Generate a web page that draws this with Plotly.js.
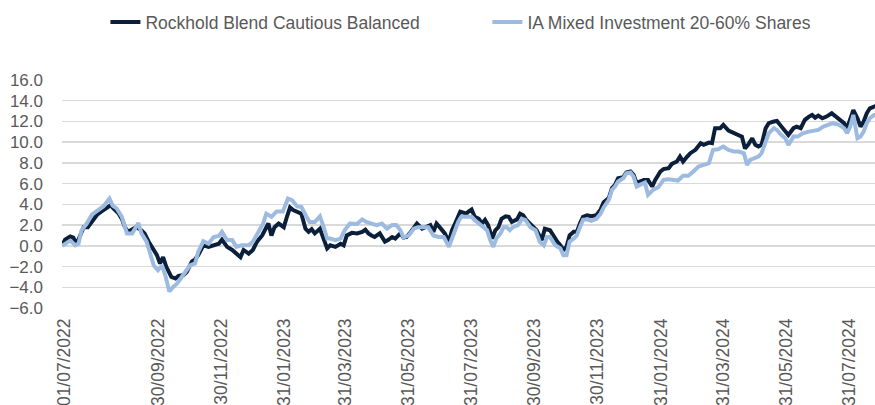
<!DOCTYPE html>
<html>
<head>
<meta charset="utf-8">
<script src="https://cdn.plot.ly/plotly-3.0.1.min.js"></script>
<style>html,body{margin:0;padding:0;background:#fff;}#chart{width:875px;height:405px;}</style>
</head>
<body>
<div id="chart"></div>
<script>
const seriesNames = ["Rockhold Blend Cautious Balanced", "IA Mixed Investment 20-60% Shares"];

const rockholdDates = ["2022-07-01","2022-07-04","2022-07-09","2022-07-12","2022-07-15","2022-07-18","2022-07-22","2022-07-26","2022-07-30","2022-08-04","2022-08-08","2022-08-13","2022-08-17","2022-08-20","2022-08-25","2022-08-28","2022-08-31","2022-09-03","2022-09-07","2022-09-11","2022-09-16","2022-09-19","2022-09-23","2022-09-26","2022-10-01","2022-10-04","2022-10-07","2022-10-10","2022-10-15","2022-10-19","2022-10-22","2022-10-27","2022-10-30","2022-11-04","2022-11-07","2022-11-10","2022-11-15","2022-11-20","2022-11-25","2022-11-30","2022-12-03","2022-12-08","2022-12-13","2022-12-17","2022-12-21","2022-12-24","2022-12-29","2023-01-02","2023-01-06","2023-01-11","2023-01-14","2023-01-17","2023-01-20","2023-01-23","2023-01-27","2023-02-01","2023-02-04","2023-02-07","2023-02-10","2023-02-14","2023-02-18","2023-02-22","2023-02-25","2023-02-28","2023-03-03","2023-03-08","2023-03-11","2023-03-15","2023-03-18","2023-03-23","2023-03-28","2023-03-31","2023-04-03","2023-04-08","2023-04-13","2023-04-18","2023-04-21","2023-04-24","2023-04-27","2023-04-30","2023-05-05","2023-05-10","2023-05-13","2023-05-17","2023-05-20","2023-05-25","2023-05-28","2023-05-31","2023-06-03","2023-06-07","2023-06-10","2023-06-15","2023-06-18","2023-06-23","2023-06-26","2023-06-29","2023-07-02","2023-07-07","2023-07-11","2023-07-14","2023-07-17","2023-07-22","2023-07-25","2023-07-28","2023-07-30","2023-08-02","2023-08-05","2023-08-09","2023-08-12","2023-08-15","2023-08-18","2023-08-22","2023-08-25","2023-08-28","2023-08-31","2023-09-04","2023-09-07","2023-09-10","2023-09-15","2023-09-18","2023-09-21","2023-09-24","2023-09-29","2023-10-04","2023-10-09","2023-10-12","2023-10-17","2023-10-20","2023-10-24","2023-10-27","2023-10-30","2023-11-02","2023-11-05","2023-11-09","2023-11-12","2023-11-15","2023-11-18","2023-11-22","2023-11-26","2023-12-01","2023-12-05","2023-12-08","2023-12-13","2023-12-16","2023-12-19","2023-12-22","2023-12-27","2023-12-30","2024-01-03","2024-01-06","2024-01-09","2024-01-12","2024-01-16","2024-01-20","2024-01-24","2024-01-27","2024-02-01","2024-02-04","2024-02-09","2024-02-12","2024-02-17","2024-02-20","2024-02-23","2024-02-27","2024-03-01","2024-03-06","2024-03-11","2024-03-14","2024-03-19","2024-03-22","2024-03-25","2024-03-30","2024-04-02","2024-04-07","2024-04-12","2024-04-15","2024-04-18","2024-04-20","2024-04-23","2024-04-26","2024-04-30","2024-05-03","2024-05-06","2024-05-09","2024-05-13","2024-05-16","2024-05-21","2024-05-24","2024-05-27","2024-05-30","2024-06-04","2024-06-09","2024-06-12","2024-06-16","2024-06-20","2024-06-24","2024-06-27","2024-06-30","2024-07-03","2024-07-07","2024-07-11","2024-07-16","2024-07-20","2024-07-23","2024-07-28","2024-07-31","2024-08-03","2024-08-06","2024-08-10","2024-08-13","2024-08-16","2024-08-19","2024-08-22","2024-08-26","2024-08-27"];
const rockholdValues = [0,0.6,0.9,0.8,0.15,0.9,1.8,1.8,2.4,3.0,3.3,3.7,3.9,3.6,3.1,2.6,1.8,1.35,1.6,1.8,1.5,1.2,0.4,-0.1,-0.9,-1.7,-1.1,-2.0,-3.0,-3.15,-2.9,-2.8,-2.5,-1.5,-1.3,-0.9,0.05,-0.1,0.05,0.2,0.6,-0.1,-0.4,-0.7,-1.1,-0.4,-0.75,-0.4,0.4,1.0,1.5,2.15,1.0,1.8,2.15,1.8,2.8,3.7,3.45,3.3,3.1,1.65,1.35,1.6,1.2,1.65,0.7,-0.25,0.05,-0.1,0.2,0.05,1.0,1.25,1.2,1.35,1.55,1.2,1.0,0.85,1.2,0.4,0.55,0.85,0.7,1.2,0.8,0.85,1.2,1.8,2.15,1.65,1.8,2.0,1.35,2.15,1.8,1.2,0.4,1.5,2.15,3.3,3.2,3.1,3.3,3.5,2.8,2.6,2.15,2.5,2.0,0.7,1.5,1.8,2.6,2.85,2.8,2.3,2.55,3.1,2.95,2.5,2.0,1.5,0.55,1.65,1.5,1.0,0.4,0.05,-0.4,-0.1,1.0,1.35,1.35,2.15,2.8,2.95,2.85,2.95,3.5,4.2,4.6,5.56,5.88,6.52,6.62,7.07,7.17,6.85,6.04,6.2,6.36,6.36,5.72,6.36,7.17,7.4,7.5,7.9,8.13,8.61,8.13,8.61,8.94,9.26,9.9,9.74,9.96,9.9,11.35,11.35,11.67,11.12,10.86,10.8,10.6,10.54,9.4,9.74,10.38,9.74,9.58,9.74,11.35,11.83,11.99,12.05,11.67,11.35,10.7,11.35,11.5,11.35,12.15,12.47,12.63,12.37,12.57,12.31,12.47,12.79,12.47,12.15,11.83,11.35,12.31,13.1,12.31,11.5,11.99,12.79,13.27,13.43,13.27];

const iaDates = ["2022-07-01","2022-07-04","2022-07-09","2022-07-14","2022-07-17","2022-07-20","2022-07-25","2022-07-30","2022-08-04","2022-08-10","2022-08-16","2022-08-19","2022-08-23","2022-08-28","2022-09-02","2022-09-07","2022-09-10","2022-09-13","2022-09-16","2022-09-21","2022-09-24","2022-09-28","2022-10-02","2022-10-06","2022-10-09","2022-10-13","2022-10-17","2022-10-20","2022-10-23","2022-10-27","2022-10-30","2022-11-02","2022-11-07","2022-11-10","2022-11-15","2022-11-20","2022-11-25","2022-11-30","2022-12-03","2022-12-08","2022-12-13","2022-12-17","2022-12-22","2022-12-29","2023-01-02","2023-01-07","2023-01-12","2023-01-15","2023-01-20","2023-01-25","2023-01-31","2023-02-05","2023-02-09","2023-02-14","2023-02-18","2023-02-23","2023-02-26","2023-03-03","2023-03-08","2023-03-11","2023-03-15","2023-03-18","2023-03-23","2023-03-28","2023-04-01","2023-04-06","2023-04-13","2023-04-18","2023-04-22","2023-04-27","2023-05-02","2023-05-07","2023-05-12","2023-05-17","2023-05-21","2023-05-25","2023-05-28","2023-06-02","2023-06-07","2023-06-11","2023-06-16","2023-06-21","2023-06-26","2023-07-01","2023-07-06","2023-07-11","2023-07-14","2023-07-17","2023-07-20","2023-07-23","2023-07-28","2023-08-02","2023-08-05","2023-08-09","2023-08-13","2023-08-17","2023-08-20","2023-08-23","2023-08-26","2023-08-30","2023-09-02","2023-09-05","2023-09-08","2023-09-11","2023-09-16","2023-09-20","2023-09-23","2023-09-28","2023-10-03","2023-10-07","2023-10-11","2023-10-14","2023-10-17","2023-10-22","2023-10-27","2023-10-30","2023-11-02","2023-11-05","2023-11-09","2023-11-12","2023-11-15","2023-11-18","2023-11-22","2023-11-26","2023-12-01","2023-12-05","2023-12-08","2023-12-13","2023-12-16","2023-12-19","2023-12-22","2023-12-27","2023-12-30","2024-01-03","2024-01-06","2024-01-09","2024-01-12","2024-01-17","2024-01-20","2024-01-25","2024-01-30","2024-02-04","2024-02-09","2024-02-14","2024-02-18","2024-02-23","2024-02-28","2024-03-04","2024-03-09","2024-03-14","2024-03-19","2024-03-23","2024-03-28","2024-04-02","2024-04-07","2024-04-12","2024-04-17","2024-04-22","2024-04-25","2024-04-28","2024-05-01","2024-05-06","2024-05-09","2024-05-13","2024-05-16","2024-05-21","2024-05-24","2024-05-28","2024-06-01","2024-06-04","2024-06-09","2024-06-13","2024-06-18","2024-06-24","2024-06-28","2024-07-03","2024-07-08","2024-07-12","2024-07-17","2024-07-23","2024-07-28","2024-07-31","2024-08-03","2024-08-06","2024-08-10","2024-08-13","2024-08-16","2024-08-19","2024-08-22","2024-08-26","2024-08-27"];
const iaValues = [0,0.2,0.5,0.05,0.2,1.5,2.15,3.0,3.4,3.8,4.55,3.9,3.6,2.8,1.2,1.2,1.7,2.2,1.2,0.4,-0.6,-1.9,-2.35,-1.9,-2.8,-4.4,-3.95,-3.7,-3.3,-2.8,-2.35,-1.9,-1.7,-0.6,0.45,0.2,0.85,0.95,1.35,0.55,0.55,-0.1,0.05,0.05,0.4,1.35,2.15,3.1,2.8,3.3,3.3,4.55,4.4,3.8,3.75,2.8,2.3,2.3,2.85,2.0,0.7,0.7,0.55,0.7,1.5,2.15,2.1,2.55,2.3,2.15,2.0,2.15,1.65,2.0,2.0,1.5,0.8,1.0,1.65,1.8,1.8,1.8,1.0,0.85,0.85,-0.1,0.7,1.5,2.3,2.8,2.8,2.8,2.5,2.15,1.8,1.5,0.55,-0.1,0.7,1.2,1.8,1.8,1.5,1.8,2.0,2.6,2.5,1.8,1.5,0.4,0.05,0.85,0.85,0.05,-0.25,-0.9,-0.9,0.4,0.7,1.0,1.8,2.5,2.55,2.4,2.6,3.1,3.7,4.43,5.4,5.72,6.2,6.52,7.0,7.07,6.68,5.72,5.88,6.1,4.92,5.4,5.66,6.36,6.43,6.36,6.3,6.75,6.75,7.17,7.65,7.81,7.97,9.26,9.32,9.58,9.26,9.1,9.1,8.93,7.81,8.29,8.45,8.61,8.93,10.06,10.86,11.35,11.18,10.7,10.38,9.74,10.54,10.54,10.86,11.02,11.09,11.18,11.5,11.67,11.83,11.67,11.35,10.86,11.5,12.63,10.38,10.54,11.02,11.83,12.31,12.63,12.63];

const xTickDates = ["2022-07-01","2022-09-30","2022-11-30","2023-01-31","2023-03-31","2023-05-31","2023-07-31","2023-09-30","2023-11-30","2024-01-31","2024-03-31","2024-05-31","2024-07-31"];
const xTickLabels = ["01/07/2022","30/09/2022","30/11/2022","31/01/2023","31/03/2023","31/05/2023","31/07/2023","30/09/2023","30/11/2023","31/01/2024","31/03/2024","31/05/2024","31/07/2024"];
const yTickValues = [-6,-4,-2,0,2,4,6,8,10,12,14,16];

const traces = [
  {x: rockholdDates, y: rockholdValues, name: seriesNames[0], type: "scatter", mode: "lines",
   line: {color: "#0b1f3a", width: 4}, legend: "legend"},
  {x: iaDates, y: iaValues, name: seriesNames[1], type: "scatter", mode: "lines",
   line: {color: "#9dbbe1", width: 4}, legend: "legend2"}
];

const legendBase = {orientation: "h", xref: "container", yref: "container", y: 0.99,
                    xanchor: "left", yanchor: "top", font: {size: 17.5, color: "#595959"},
                    bgcolor: "rgba(0,0,0,0)"};

const layout = {
  width: 875, height: 405,
  margin: {l: 62, r: 0, t: 80, b: 97, pad: 0},
  paper_bgcolor: "#ffffff", plot_bgcolor: "#ffffff",
  font: {family: "Liberation Sans, Arial, sans-serif", color: "#595959"},
  showlegend: true,
  legend: Object.assign({}, legendBase, {x: 0.1205}),
  legend2: Object.assign({}, legendBase, {x: 0.557}),
  xaxis: {type: "date", range: ["2022-07-01", "2024-08-27"], showgrid: false, zeroline: false,
          showline: false, ticks: "", tickvals: xTickDates, ticktext: xTickLabels,
          tickangle: -90, tickfont: {size: 17.5, color: "#595959"}, ticklabelstandoff: 6,
          ticklabelshift: 2},
  yaxis: {range: [-6, 16], tickvals: yTickValues, tickformat: ".1f", showgrid: true,
          gridcolor: "#d9d9d9", gridwidth: 1.5, zeroline: false, showline: false, ticks: "",
          tickfont: {size: 17, color: "#595959"}, ticklabelstandoff: 18}
};

Plotly.newPlot("chart", traces, layout, {staticPlot: true, displayModeBar: false});
</script>
</body>
</html>
